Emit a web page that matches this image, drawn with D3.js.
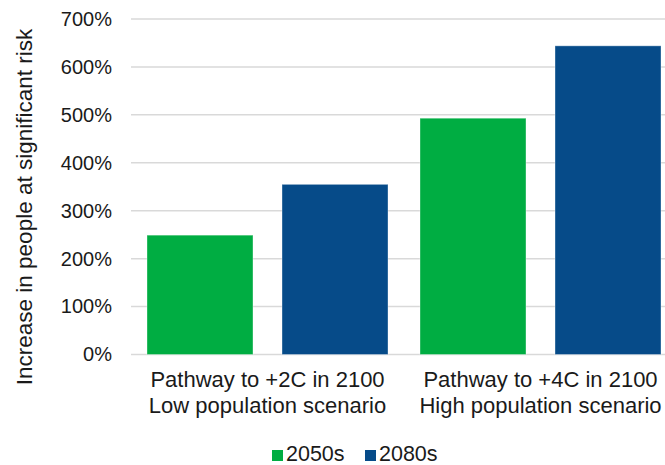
<!DOCTYPE html>
<html>
<head>
<meta charset="utf-8">
<script src="https://cdn.jsdelivr.net/npm/d3@7"></script>
<style>
    body { margin: 0; background: #fff; }
    text { font-family: "Liberation Sans", Arial, sans-serif; fill: #1a1a1a; }
</style>
</head>
<body>
<svg id="mainFrame"></svg>
<script>
// chart data
const categories = ['Pathway to +2C in 2100|Low population scenario', 'Pathway to +4C in 2100|High population scenario']
const seriesNames = ['2050s', '2080s']
const values2050s = [249, 493]
const values2080s = [355, 644]
const yTicks = [0, 100, 200, 300, 400, 500, 600, 700]
const seriesColors = ['#00ad42', '#064b89']

const width = 665
const height = 465

const svg = d3.select('#mainFrame')
    .attr('width', width)
    .attr('height', height)

const plot = { left: 131, right: 677, top: 19, bottom: 354.5 }

const y = d3.scaleLinear()
    .domain([0, 700])
    .range([plot.bottom, plot.top])

const x0 = d3.scaleBand()
    .domain(categories)
    .range([plot.left, plot.right])
    .padding(0)

const x1 = d3.scaleBand()
    .domain(seriesNames)
    .range([16, x0.bandwidth() - 16])
    .paddingInner(0.215)
    .paddingOuter(0)

// gridlines
svg.append('g')
    .selectAll('line')
    .data(yTicks)
    .join('line')
    .attr('x1', plot.left)
    .attr('x2', plot.right)
    .attr('y1', d => y(d))
    .attr('y2', d => y(d))
    .attr('stroke', '#d9d9d9')
    .attr('stroke-width', 1.5)

// y axis labels
const yAxis = svg.append('g')
    .attr('transform', `translate(112,0)`)
    .call(d3.axisLeft(y).tickValues(yTicks).tickFormat(d => d + '%').tickSize(0).tickPadding(0))
yAxis.select('.domain').remove()
yAxis.selectAll('text')
    .attr('font-size', 20)
    .attr('fill', '#1a1a1a')
    .attr('font-family', '"Liberation Sans", Arial, sans-serif')

// bars
const rows = categories.map((c, i) => ({
    category: c,
    values: [
        { series: seriesNames[0], value: values2050s[i] },
        { series: seriesNames[1], value: values2080s[i] }
    ]
}))

const color = d3.scaleOrdinal().domain(seriesNames).range(seriesColors)

svg.append('g')
    .selectAll('g')
    .data(rows)
    .join('g')
    .attr('transform', d => `translate(${x0(d.category)},0)`)
    .selectAll('rect')
    .data(d => d.values)
    .join('rect')
    .attr('x', d => x1(d.series))
    .attr('width', x1.bandwidth())
    .attr('y', d => y(d.value))
    .attr('height', d => y(0) - y(d.value))
    .attr('fill', d => color(d.series))
    .attr('stroke', 'rgba(255,255,255,0.35)')
    .attr('stroke-width', 1)

// category labels
const catLabels = svg.append('g')
    .selectAll('text')
    .data(categories)
    .join('text')
    .attr('text-anchor', 'middle')
    .attr('font-size', 22)
    .attr('transform', d => `translate(${x0(d) + x0.bandwidth() / 2},387)`)

catLabels.selectAll('tspan')
    .data(d => d.split('|'))
    .join('tspan')
    .attr('x', 0)
    .attr('y', (d, i) => i * 26)
    .text(d => d)

// y axis title
svg.append('text')
    .attr('transform', `translate(32,207) rotate(-90)`)
    .attr('text-anchor', 'middle')
    .attr('font-size', 22.5)
    .text('Increase in people at significant risk')

// legend
const legend = svg.append('g')
    .selectAll('g')
    .data(seriesNames)
    .join('g')
    .attr('transform', (d, i) => `translate(${272 + i * 93},450)`)

legend.append('rect')
    .attr('width', 11)
    .attr('height', 11)
    .attr('fill', d => color(d))

legend.append('text')
    .attr('x', 14)
    .attr('y', 11)
    .attr('font-size', 21.5)
    .text(d => d)
</script>
</body>
</html>
